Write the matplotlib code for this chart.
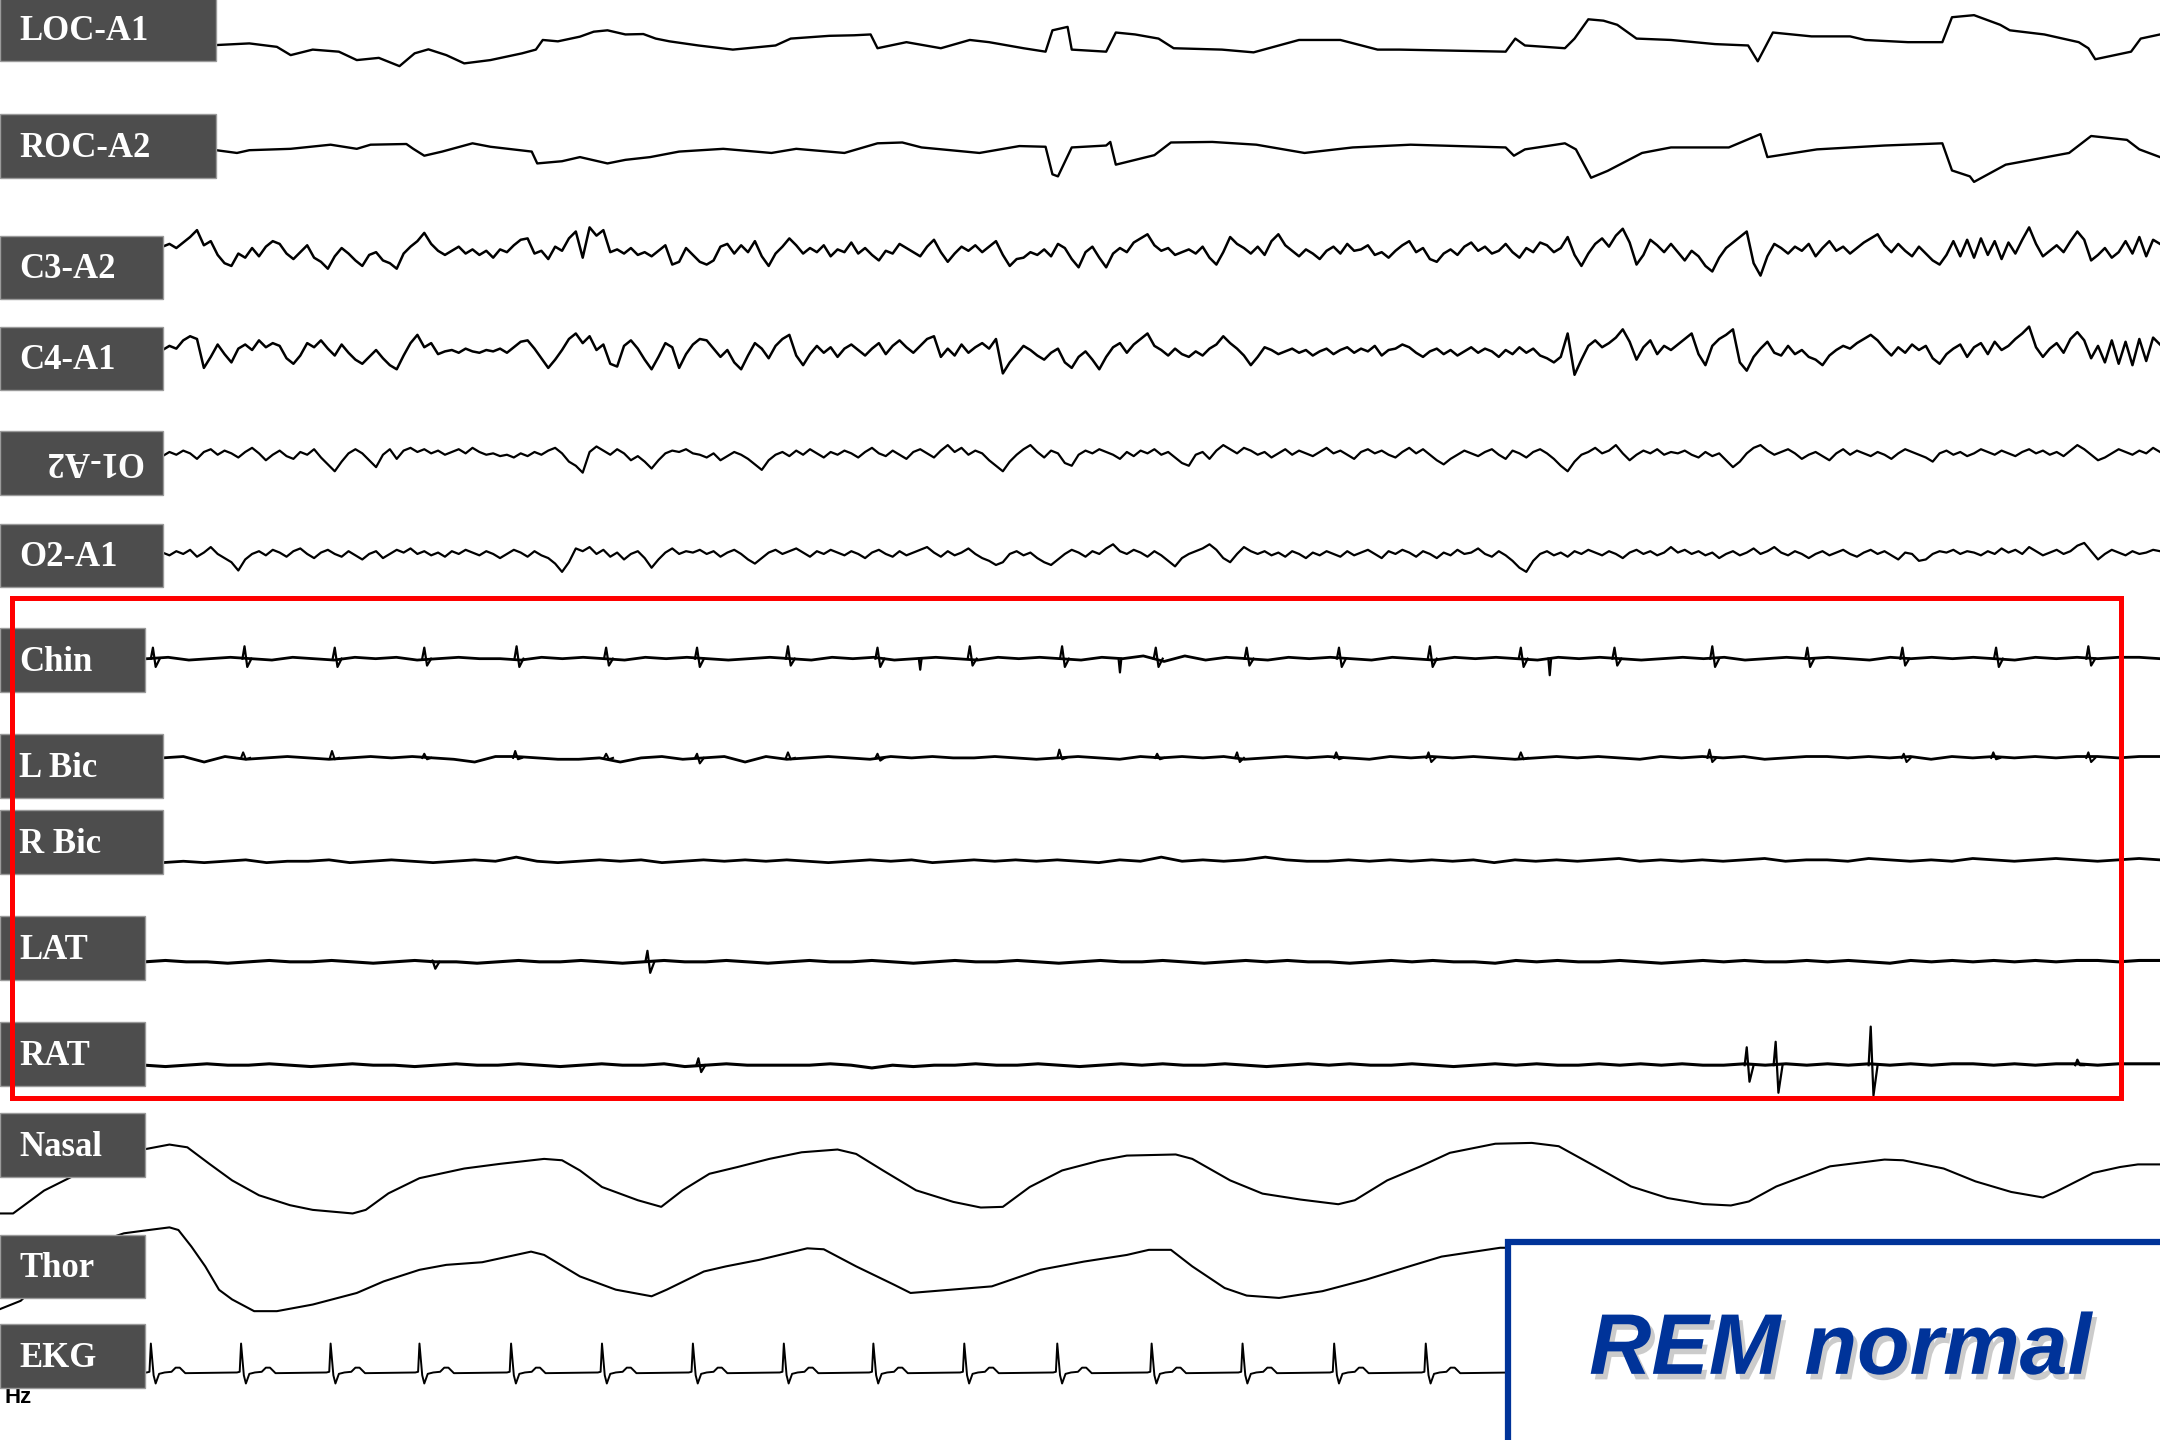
import numpy as np
import matplotlib.pyplot as plt
from matplotlib.patches import Rectangle
import matplotlib.patheffects as pe

# one polysomnography page; time in seconds (the page holds 31.36 s)
PAGE_SEC = 31.36

# ---------------- data ----------------
# EOG channels: (time s, amplitude) pairs
LOC_T = [3.14, 3.62, 4.02, 4.22, 4.54, 4.92, 5.18, 5.5, 5.8, 6.02, 6.22, 6.48, 6.74, 7.12, 7.58,
         7.78, 7.88, 8.1, 8.42, 8.62, 8.82, 9.08, 9.34, 9.52, 9.72, 10.14, 10.64, 11.26, 11.48,
         12.04, 12.4, 12.64, 12.74, 13.16, 13.66, 14.08, 14.36, 14.86, 15.18, 15.28, 15.5, 15.56,
         16.06, 16.2, 16.48, 16.82, 17.04, 17.74, 18.2, 18.86, 19.46, 20.0, 20.32, 21.86, 22.0,
         22.14, 22.72, 22.86, 23.06, 23.28, 23.48, 23.76, 24.26, 24.9, 25.38, 25.52, 25.74, 26.3,
         26.86, 27.08, 27.7, 28.2, 28.34, 28.66, 29.04, 29.18, 29.68, 30.18, 30.32, 30.42, 30.94,
         31.08, 31.36]
LOC_V = [-0.7, 0.5, -2, -8, -4, -5.5, -11.6, -10, -16, -6.7, -3.8, -8, -14, -11.6, -6.7,
         -4, 3, 2, 5.4, 9, 10, 7, 7.3, 4, 2, -1, -4, -1, 4,
         6, 6.4, 7, -3, 1.4, -3, 3, 1.4, -3, -5.5, 10, 12.5, -4,
         -5.5, 8.4, 7, 4, -3, -4, -6, 3, 3, -4, -4, -5.5, 4,
         -1, -3, 4, 18, 17, 14, 4, 3, 0, -1, -12.5, 8.4, 5.6,
         5.6, 3, 1.4, 1.4, 19.5, 21, 14, 10, 7, 1.4, -3, -11, -5.5,
         4, 7]

ROC_T = [3.14, 3.44, 3.62, 4.22, 4.8, 5.18, 5.38, 5.9, 6.0, 6.16, 6.42, 6.86, 7.12, 7.72, 7.8,
         8.16, 8.42, 8.82, 9.08, 9.44, 9.86, 10.5, 11.2, 11.56, 12.26, 12.74, 13.1, 13.38, 14.22,
         14.8, 15.18, 15.28, 15.36, 15.56, 16.06, 16.12, 16.2, 16.76, 17.0, 17.6, 18.24, 18.94,
         19.64, 20.48, 21.86, 21.98, 22.14, 22.72, 22.88, 23.1, 23.34, 23.84, 24.26, 25.1, 25.56,
         25.66, 26.38, 27.36, 28.2, 28.34, 28.6, 28.66, 29.12, 30.04, 30.36, 30.88, 31.06, 31.36]
ROC_V = [-2, -4, -2, -1, 2, -1, 2, 2.5, -1, -6, -3, 3, 0.5, -3, -11.6,
         -10, -7, -11.6, -9, -7, -3, -1, -4, -1, -4, 3, 3.6, 0, -4,
         1, 0.5, -19.5, -21, 0, 1.4, 4, -12.5, -5.6, 3.6, 4, 2, -4,
         0, 2, 0, -6, -1.4, 3, -1.4, -22, -17, -4, 0, 0, 9.7,
         -7, -1.4, 1.4, 3, -16.7, -21, -25, -12.5, -4, 8.3, 5.5, -1.4, -7]

# EEG channels: samples every 0.1 s from the end of the label box
C3_A2 = [2, 4, 1, 5, 9, 14, 3, 6, -4, -10, -12, -3, -6, 1, -5, 2, 6, 4, -3, -7,
         -2, 3, -6, -9, -14, -5, 1, -3, -8, -12, -4, -2, -8, -10, -14, -3, 2, 6, 12, 4,
         -1, -4, -1, 2, -3, 0, -4, -1, -6, 0, -2, 3, 7, 8, -3, -1, -7, 2, -1, 8,
         13, -6, 16, 10, 14, -2, 0, -3, 1, -4, -2, -5, -1, 3, -11, -9, 1, -4, -9, -11,
         -8, 2, 4, -3, 3, -2, 6, -5, -12, -3, 2, 8, 3, -3, 1, -2, 3, -5, 0, -2,
         5, -3, 1, -4, -8, -1, -3, 4, 1, -2, -5, 2, 7, -2, -9, -3, 2, -1, 3, -2,
         2, 6, -4, -12, -7, -6, -2, -4, 0, -5, 4, 1, -7, -13, -2, 2, -6, -13, -3, 1,
         -2, 5, 8, 11, 3, -1, 1, -4, -2, 0, -3, 2, -6, -11, -2, 9, 4, 1, -3, 2,
         -4, 6, 11, 3, -1, -5, 0, -3, -7, -1, 2, -3, 4, -1, 0, 3, -4, -2, -6, -1,
         3, 6, -2, 1, -7, -9, -3, 0, -4, 2, 5, -1, 2, -3, -1, 4, -2, -6, 1, -2,
         5, 3, -2, 1, 9, -4, -12, -3, 4, 8, 2, 10, 15, 5, -11, -4, 7, 3, -2, 4,
         -2, -8, -1, -5, -12, -16, -6, 1, 5, 9, 13, -10, -19, -5, 4, 1, -3, 2, -1, 4,
         -5, 1, 6, -1, 2, -3, 1, 5, 8, 11, 3, -2, 4, -1, -5, 2, -3, -8, -11, -4,
         6, -5, 7, -6, 8, -4, 6, -7, 5, -3, 7, 16, 4, -5, -1, 3, -2, 6, 13, 7,
         -8, -4, 1, -6, -2, 6, -3, 9, -5, 7, 4]
C4_A1 = [1, 4, 2, 8, 11, 9, -12, -4, 5, -2, -8, 2, 5, 1, 8, 3, 6, 4, -5, -9,
         -3, 6, 3, 8, 2, -3, 5, -1, -6, -9, -4, 1, -5, -10, -13, -3, 6, 12, 3, 6,
         -2, 0, 1, -1, 2, 0, -1, 1, 0, 2, -1, 3, 7, 8, 2, -5, -12, -6, 1, 9,
         13, 6, 11, 1, 5, -9, -11, 4, 8, 2, -6, -13, -4, 6, 3, -12, -2, 5, 9, 8,
         2, -4, 1, -8, -13, -3, 6, 2, -5, 4, 9, 12, -3, -10, -2, 4, -1, 3, -4, 2,
         5, 1, -3, 2, 6, -2, 4, 8, 3, -1, 4, 9, 11, -4, 2, -3, 5, -1, 3, 6,
         2, 9, -16, -8, -2, 4, 1, -3, -6, -1, 2, -8, -12, -4, 0, -6, -13, -4, 3, 6,
         -1, 5, 9, 13, 4, 1, -3, 2, -2, -4, 0, -3, 2, 5, 11, 6, 2, -3, -10, -4,
         3, 1, -2, 0, 2, -1, 1, -3, 0, 2, -2, 1, 3, -1, 2, 0, 4, -3, 1, 2,
         5, 3, -1, -4, 0, 2, -2, 1, -3, 0, 3, -1, 2, 0, -4, 1, -2, 3, -1, 2,
         -3, -5, -8, -4, 13, -17, -6, 4, 8, 3, 6, 10, 16, 7, -6, 3, 8, -2, 4, 1,
         5, 9, 13, -2, -10, 4, 9, 12, 16, -8, -14, -4, 2, 7, -1, -3, 4, -2, 1, -4,
         -6, -10, -3, 1, 4, 2, 6, 9, 12, 8, 2, -3, 3, -1, 5, 1, 4, -5, -9, -2,
         2, 5, -4, 3, 6, -2, 7, 1, 4, 9, 13, 18, 3, -4, 2, 6, -1, 9, 14, 8,
         -5, 4, -8, 8, -9, 7, -10, 9, -7, 10, 5]
O1_A2 = [0, 3, 1, 4, 2, -2, 3, 5, 1, 4, 2, -1, 3, 6, 2, -3, 1, 4, 0, -2,
         3, 1, 5, -1, -6, -11, -4, 2, 5, 2, -3, -8, 1, 5, -2, 4, 6, 3, 5, 2,
         4, 1, 3, 5, 2, 6, 3, 1, 2, 0, 1, -1, 2, 0, 3, 1, 4, 6, 2, -4,
         -7, -12, 3, 7, 4, 1, 5, 2, -3, 0, -4, -9, -3, 2, 4, 3, 5, 2, 1, -1,
         2, -3, 0, 3, 1, -2, -6, -10, -3, 1, 3, 0, 4, 1, 5, 2, -1, 3, 1, 4,
         2, -1, 3, 6, 2, 0, 4, 1, -2, 3, 5, 2, -1, 4, 8, 3, 6, 1, 4, 2,
         -3, -7, -11, -4, 1, 5, 8, 3, -1, 4, 2, -5, -7, 1, 4, 2, 5, 3, 1, -2,
         3, 0, 4, 2, 5, 1, 3, -1, -5, -7, 1, 3, -2, 4, 8, 5, 2, 6, 4, 1,
         3, -1, 2, 5, 1, 4, 2, 0, 3, 6, 2, 4, 1, -2, 3, 5, 2, 4, 1, -1,
         3, 6, 2, 5, 1, -3, -6, -2, 1, 4, 2, 0, 3, 5, 1, -2, 4, 2, -1, 3,
         5, 2, -2, -7, -11, -4, 1, 3, 6, 2, 4, 8, 2, -3, 1, 4, 2, 5, 1, 3,
         2, 4, 1, -1, 3, 0, 2, -3, -8, -4, 2, 6, 8, 4, 1, 3, 5, 2, -2, 1,
         3, 0, -3, 2, 5, 1, 4, 2, 0, 3, 1, -2, 2, 5, 3, 1, -1, -4, 2, 4,
         1, 3, 0, 2, 5, 3, 1, 4, 2, 0, 3, 5, 2, 4, 1, 3, 0, 4, 8, 5,
         1, -3, -1, 2, 5, 3, 1, 4, 2, 6, 3]
O2_A1 = [2, 0, 3, 1, 4, -1, 2, 6, 1, -2, -5, -11, -3, 1, 3, 0, 4, 2, -1, 3,
         5, 1, -2, 2, 4, 1, -1, 3, 0, -3, 1, 3, -2, 1, 4, 2, 5, 1, 3, 0,
         2, -1, 3, 1, 4, 2, 0, 3, 1, -2, 1, 4, 2, -1, 3, 0, -2, -6, -12, -5,
         5, 3, 6, 1, 4, -1, 2, -3, 1, 3, -2, -9, -3, 2, 5, 1, 3, 2, 4, 1,
         3, -1, 2, 4, 1, -3, -6, -2, 2, 4, 1, 3, 5, 2, -1, 3, 1, 4, 2, 0,
         3, 1, -2, 2, 4, 1, -1, 3, 0, 2, 4, 6, 2, -1, 3, 0, 2, 5, 1, -2,
         -4, -7, -5, 1, 3, 0, 2, -2, -5, -7, -3, 1, 4, 2, -1, 3, 1, 5, 8, 3,
         1, 4, 2, -1, 3, 0, -4, -8, -2, 1, 3, 5, 8, 4, -2, -5, 1, 6, 3, 1,
         3, 0, 2, -1, 3, 1, -2, 2, 0, 3, 1, -1, 3, 0, 2, 4, 1, -2, 3, 1,
         4, 2, -1, 3, 1, -2, 2, 0, 4, 1, 2, 5, 1, -1, 3, 0, -4, -9, -12, -4,
         1, 3, 0, 2, -1, 3, 1, 4, 2, 0, 3, 1, -2, 2, 4, 1, 3, 0, 2, 6,
         2, 4, 1, 3, 0, 2, -2, 1, 3, 0, 2, 5, 1, 3, 6, 2, 0, 3, 1, -2,
         1, 3, 0, 2, 4, 1, -1, 2, 4, 1, 3, 0, -3, 2, 1, -4, -3, 1, 3, 2,
         4, 1, 3, 2, 0, 3, 1, 5, 2, 4, 1, 6, 3, 0, 2, 4, 1, 3, 7, 9,
         3, -3, 1, 4, 2, 0, 3, 1, 2, 4, 3]

# EMG channels: slow background, then the spikes (time, up, down)
CHIN_BG = [0, 1, -1, 0, 1, 0, -1, 1, 0, -1, 1, 0, 1, -1, 0, 1, 0, 0, -1, 1,
           0, 1, 0, -1, 1, 0, 1, 0, -1, 0, 1, 0, -1, 1, 0, 1, -1, 0, 1, 0,
           -1, 1, 0, 1, 0, -1, 1, 0, 2, -2, 2, -1, 1, 0, -1, 1, 0, 1, 0, -1,
           1, 0, -1, 1, 0, 1, 0, -1, 1, 0, 1, 0, -1, 0, 1, 0, 1, -1, 0, 1,
           0, 1, 0, -1, 1, 0, 1, 0, 1, 0, -1, 1, 0, 1, 0, 1, 1, 0]
CHIN_SPIKE_T = [2.22, 3.55, 4.86, 6.16, 7.5, 8.8, 10.12, 11.44, 12.74, 14.08, 15.42, 16.78,
                18.1, 19.44, 20.76, 22.08, 23.44, 24.86, 26.24, 27.62, 28.98, 30.32]
CHIN_SPIKE_UP = [8, 9, 8, 8, 9, 8, 8, 9, 8, 9, 9, 8, 8, 8, 9, 8, 8, 9, 8, 8, 8, 9]
CHIN_SPIKE_DOWN = [6, 6, 6, 5, 6, 5, 6, 5, 6, 5, 6, 6, 5, 6, 6, 6, 5, 6, 6, 5, 6, 5]
CHIN_DIP_T = [13.36, 16.26, 22.5]
CHIN_DIP_DOWN = [8, 10, 12]

LBIC_BG = [0, 1, -3, 1, -1, 0, 1, 0, -1, 0, 1, 0, 1, 0, -1, -3, 1, 1, 0, -1,
           -1, 0, -3, 0, 1, -1, 0, 1, -3, 1, -1, 0, 1, 0, -1, 1, 0, 1, 0, 0,
           1, 0, -1, 0, 1, 0, -1, 1, 0, 1, 0, 1, -1, 0, 1, 0, 1, 0, -1, 1,
           0, 1, 0, 1, 0, -1, 0, 1, 0, 1, 0, -1, 1, 0, 1, 0, 1, -1, 0, 1,
           1, 0, 1, 0, 1, -1, 1, 0, 1, 0, 1, 0, 1, 1, 0, 1, 1]
LBIC_SPIKE_T = [3.53, 4.82, 6.16, 7.48, 8.8, 10.12, 11.44, 12.74, 15.38, 16.8, 17.96, 19.4,
                20.74, 22.08, 24.82, 27.64, 28.94, 30.32]
LBIC_SPIKE_UP = [4, 5, 3, 5, 3, 3, 4, 3, 6, 3, 4, 4, 4, 4, 6, 3, 4, 4]
LBIC_SPIKE_DOWN = [1, 1, 1, 1, 1, 4, 1, 2, 1, 1, 3, 1, 3, 1, 3, 3, 1, 3]

RBIC_BG = [-1, 0, -1, 0, 1, -1, 0, 0, 1, -1, 0, 1, 0, -1, 0, 1, 0, 3, 0, -1,
           0, 1, 0, 1, -1, 0, 1, 0, 1, 0, 1, 0, -1, 0, 1, 0, 1, -1, 0, 1,
           0, 1, 0, 1, 0, -1, 1, 0, 3, 0, 1, 0, 1, 3, 1, 0, 0, 1, 0, 1,
           0, 1, 0, 1, -1, 1, 0, 1, 0, 1, 2, 0, 1, 0, 1, 0, 1, 2, 0, 1,
           1, 0, 2, 1, 0, 1, 0, 2, 1, 0, 1, 2, 1, 0, 1, 2, 1]

LAT_BG = [0, 1, 0, 0, -1, 0, 1, 0, 0, 1, 0, -1, 0, 1, 0, 0, -1, 0, 1, 0,
          0, 1, 0, -1, 0, 1, 0, 0, 1, 0, -1, 0, 1, 0, 0, 1, 0, -1, 0, 1,
          0, 0, 1, 0, -1, 0, 1, 0, 0, 1, 0, -1, 0, 1, 0, 1, 0, 0, -1, 0,
          1, 0, 1, 0, 0, -1, 1, 0, 1, 0, 0, 1, 0, -1, 0, 1, 0, 1, 0, 0,
          1, 0, 1, 0, -1, 1, 0, 1, 0, 1, 0, 1, 0, 1, 1, 0, 1, 1]
LAT_SPIKE_T = [6.28, 9.4]
LAT_SPIKE_UP = [1, 8]
LAT_SPIKE_DOWN = [5, 8]

RAT_BG = [0, -1, 0, 1, 0, 0, 1, 0, -1, 0, 1, 0, 0, -1, 0, 1, 0, 0, 1, 0,
          -1, 0, 1, 0, 0, 1, -1, 0, 1, 0, 0, 0, 0, 1, 0, -2, 0, -1, 0, 0,
          1, 0, 0, 1, 0, -1, 0, 1, 0, 1, 0, 0, 1, 0, -1, 0, 1, 0, 1, 0,
          0, 1, 0, -1, 0, 1, 0, 1, 0, 0, 1, 0, 1, 0, 1, 0, 0, 1, 0, 1,
          0, 1, 0, 1, 0, 1, 0, 1, 1, 0, 1, 0, 1, 1, 0, 1, 1, 1]
RAT_SPIKE_T = [10.14, 25.36, 25.78, 27.16, 30.16]
RAT_SPIKE_UP = [5, 13, 17, 28, 4]
RAT_SPIKE_DOWN = [5, 12, 20, 22, 0]

# respiration
NASAL_T = [0, 0.19, 0.64, 1.04, 2.1, 2.46, 2.72, 3.04, 3.37, 3.76, 4.21, 4.54, 5.12, 5.31, 5.64,
           6.09, 6.74, 7.26, 7.9, 8.16, 8.42, 8.74, 9.26, 9.6, 9.91, 10.3, 10.7, 11.17, 11.64,
           12.16, 12.43, 12.82, 13.3, 13.84, 14.24, 14.56, 14.95, 15.42, 15.97, 16.36, 17.07,
           17.31, 17.86, 18.33, 18.88, 19.43, 19.67, 20.14, 20.62, 21.05, 21.71, 22.24, 22.63,
           23.16, 23.68, 24.21, 24.73, 25.13, 25.39, 25.79, 26.57, 27.36, 27.63, 28.22, 28.68,
           29.2, 29.66, 29.86, 30.39, 30.78, 31.04, 31.36]
NASAL_V = [-25.6, -25.6, -9, 1, 21, 24.4, 22.4, 10.4, -1.6, -12.4, -19.6, -23, -25.6, -23, -11,
           0, 7, 10.4, 14, 13, 5.6, -6.4, -16, -20.8, -8.8, 3.2, 8, 14, 18.8,
           20.8, 17.6, 5.6, -8.8, -17.2, -21.3, -20.8, -6.4, 5.6, 12.8, 16.4, 17.2,
           14, -1.6, -11.2, -15.5, -18.9, -16, -1.6, 8.5, 18.4, 25, 25.6, 23.2,
           8.6, -6, -14.4, -18.8, -19.8, -16.9, -6, 8.6, 13.5, 13, 7, -2.3,
           -10, -14, -9.6, 3.8, 8.1, 10, 10]
THOR_T = [0, 0.3, 0.7, 1.2, 1.8, 2.1, 2.46, 2.59, 2.78, 2.98, 3.18, 3.37, 3.69, 4.02, 4.54,
          5.18, 5.57, 6.09, 6.48, 7.0, 7.71, 7.9, 8.42, 8.94, 9.46, 9.68, 10.22, 10.54, 11.02,
          11.72, 11.96, 12.43, 12.98, 13.22, 13.69, 14.4, 15.1, 15.74, 16.36, 16.68, 17.0,
          17.31, 17.78, 18.1, 18.57, 19.2, 19.83, 20.46, 20.93, 21.78, 21.95]
THOR_V = [-25, -19, 0, 20, 30, 32, 34.3, 32.4, 20.3, 6, -11, -18, -26.5, -26.5, -21.7,
          -13.3, -4.9, 3.5, 7.1, 9, 16.7, 14.3, -1.3, -10.9, -15.7, -10.9, 2.3, 6, 10.7,
          19.1, 18.4, 6, -7.3, -13.3, -11.4, -8.5, 3.5, 9.5, 14.3, 18, 18,
          6, -9.7, -15.2, -16.9, -12, -3.7, 6, 13.1, 19.5, 19.5]

# EKG: R-peak times and one beat's shape (offset s, amplitude)
EKG_R = [2.19, 3.5, 4.8, 6.09, 7.42, 8.74, 10.06, 11.38, 12.68, 14.0, 15.35, 16.72,
         18.04, 19.37, 20.7, 22.03]
BEAT_DT = [-0.06, -0.02, 0.0, 0.04, 0.07, 0.12, 0.2, 0.3, 0.36, 0.42, 0.5]
BEAT_V = [0, 0.5, 21, -2, -8, -1, 0, 0.5, 3.5, 3.5, -0.5]

# ---------------- page layout (page pixels, 1568 x 1045) ----------------
LABELS = ["LOC-A1", "ROC-A2", "C3-A2", "C4-A1", "O1-A2", "O2-A1", "Chin",
          "L Bic", "R Bic", "LAT", "RAT", "Nasal", "Thor", "EKG"]
BOX_RIGHT = [157, 157, 118, 118, 118, 118, 105, 118, 118, 105, 105, 105, 105, 105]
BOX_TOP = [-2, 83, 171, 237, 313, 380, 456, 533, 588, 665, 742, 808, 896, 961]
BOX_H = 46
BASE = {"LOC": 32, "ROC": 107, "C3": 181, "C4": 255, "O1": 331, "O2": 403,
        "Chin": 478, "LBic": 550, "RBic": 625, "LAT": 698, "RAT": 773,
        "Nasal": 855, "Thor": 925, "EKG": 996}
PX_PER_SEC = 50.0

fig = plt.figure(figsize=(21.6, 14.4), dpi=100)
ax = fig.add_axes([0, 0, 1, 1])
ax.set_xlim(0, PAGE_SEC)
ax.set_ylim(1045, 0)
ax.axis("off")


def trace(t, v, base, lw=1.8):
    ax.plot(t, base - np.asarray(v, dtype=float), color="black", lw=lw)


def sampled(vals, start_px, base, lw=1.8):
    t = np.linspace(start_px / PX_PER_SEC, PAGE_SEC, len(vals))
    trace(t, vals, base, lw)


def spikes(times, ups, downs, base, lw=1.8):
    for t, u, d in zip(times, ups, downs):
        trace([t - 0.03, t, t + 0.04, t + 0.1], [0, u, -d, 0], base, lw)


# eye channels
trace(LOC_T, LOC_V, BASE["LOC"], 1.7)
trace(ROC_T, ROC_V, BASE["ROC"], 1.7)

# EEG
sampled(C3_A2, 118, BASE["C3"])
sampled(C4_A1, 118, BASE["C4"])
sampled(O1_A2, 118, BASE["O1"], 1.6)
sampled(O2_A1, 118, BASE["O2"], 1.6)

# EMG
sampled(CHIN_BG, 107, BASE["Chin"], 2.0)
spikes(CHIN_SPIKE_T, CHIN_SPIKE_UP, CHIN_SPIKE_DOWN, BASE["Chin"], 1.6)
for t, d in zip(CHIN_DIP_T, CHIN_DIP_DOWN):
    trace([t - 0.02, t, t + 0.02], [0, -d, 0], BASE["Chin"], 1.6)
sampled(LBIC_BG, 118, BASE["LBic"], 2.0)
spikes(LBIC_SPIKE_T, LBIC_SPIKE_UP, LBIC_SPIKE_DOWN, BASE["LBic"], 1.5)
sampled(RBIC_BG, 118, BASE["RBic"], 2.0)
sampled(LAT_BG, 105, BASE["LAT"], 2.2)
spikes(LAT_SPIKE_T, LAT_SPIKE_UP, LAT_SPIKE_DOWN, BASE["LAT"], 1.6)
sampled(RAT_BG, 105, BASE["RAT"], 2.2)
spikes(RAT_SPIKE_T, RAT_SPIKE_UP, RAT_SPIKE_DOWN, BASE["RAT"], 1.6)

# respiration
trace(NASAL_T, NASAL_V, BASE["Nasal"], 1.5)
trace(THOR_T, THOR_V, BASE["Thor"], 1.5)

# EKG built from the R peaks
ekg_t, ekg_v = [105 / PX_PER_SEC], [0.0]
for r in EKG_R:
    ekg_t += [r + d for d in BEAT_DT]
    ekg_v += BEAT_V
ekg_t.append(PAGE_SEC)
ekg_v.append(0.0)
trace(ekg_t, ekg_v, BASE["EKG"], 1.4)

# overlay in page pixels: label boxes, frames, caption
ov = fig.add_axes([0, 0, 1, 1])
ov.set_xlim(0, 1568)
ov.set_ylim(1045, 0)
ov.axis("off")
ov.patch.set_alpha(0)

# "Hz" sits partly under the EKG box
ov.text(3, 1018.5, "Hz", color="black", fontsize=16, fontweight="bold",
        family="Liberation Sans", ha="left", va="baseline", zorder=0.5)

for name, right, top in zip(LABELS, BOX_RIGHT, BOX_TOP):
    ov.add_patch(Rectangle((0, top), right, BOX_H, facecolor="#4d4d4d",
                           edgecolor="#9a9a9a", lw=1.0, zorder=1))
    mid = top + BOX_H / 2
    if name == "O1-A2":
        ov.text(103, mid - 8, name, color="white", fontsize=25, fontweight="bold",
                family="Liberation Serif", rotation=180, rotation_mode="anchor",
                ha="left", va="baseline", zorder=2)
    else:
        ov.text(14, mid + 8, name, color="white", fontsize=25, fontweight="bold",
                family="Liberation Serif", ha="left", va="baseline", zorder=2)

ov.add_patch(Rectangle((9, 434), 1531, 363, fill=False, edgecolor="#ff0000", lw=3.6,
                       zorder=3))

ov.add_patch(Rectangle((1095, 901), 520, 200, facecolor="white",
                       edgecolor="#003399", lw=4.5, zorder=3))
ov.text(1336, 997, "REM normal", color="#003399", fontsize=62, fontweight="bold",
        fontstyle="italic", family="Liberation Sans", ha="center", va="baseline", zorder=4,
        path_effects=[pe.withSimplePatchShadow(offset=(3, -4), shadow_rgbFace="#999999",
                                               alpha=0.5)])

fig.savefig("out.png", dpi=100)
